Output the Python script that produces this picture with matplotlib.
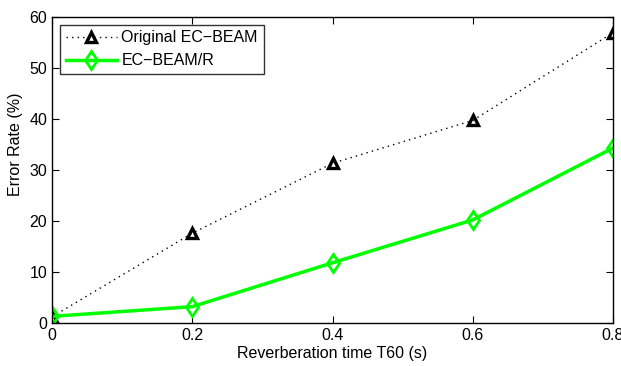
import matplotlib
matplotlib.use("Agg")
import matplotlib.pyplot as plt

plt.rcParams["font.family"] = ["Liberation Sans", "DejaVu Sans"]

t60 = [0.0, 0.2, 0.4, 0.6, 0.8]
original = [1.2, 17.6, 31.3, 39.7, 56.9]
ec_beam_r = [1.3, 3.2, 11.8, 20.2, 34.3]

fig = plt.figure(figsize=(6.21, 3.66), dpi=100)
ax = fig.add_axes([0.0837, 0.1175, 0.9035, 0.8365])

ax.plot(t60, original, color="black", linestyle=(0, (1, 3)), linewidth=1.0,
        marker="^", markersize=7.5, markerfacecolor="none",
        markeredgecolor="black", markeredgewidth=2.4, label="Original EC\u2212BEAM")
ax.plot(t60, ec_beam_r, color="#00ff00", linestyle="-", linewidth=2.5,
        marker="d", markersize=9.5, markerfacecolor="none",
        markeredgecolor="#00ff00", markeredgewidth=2.0, label="EC\u2212BEAM/R")

ax.set_xlim(0, 0.8)
ax.set_ylim(0, 60)
ax.set_xticks([0, 0.2, 0.4, 0.6, 0.8])
ax.set_xticklabels(["0", "0.2", "0.4", "0.6", "0.8"])
ax.set_yticks([0, 10, 20, 30, 40, 50, 60])
ax.tick_params(direction="in", top=True, right=True, labelsize=11.5, length=5, width=0.8)
for s in ax.spines.values():
    s.set_linewidth(1.0)

ax.set_xlabel("Reverberation time T60 (s)", fontsize=11.5, labelpad=2)
ax.set_ylabel("Error Rate (%)", fontsize=11.5)
ax.yaxis.set_label_coords(-0.052, 0.585)

leg = ax.legend(loc="upper left", fontsize=11.5, frameon=True, fancybox=False,
                edgecolor="black", borderpad=0.35, handlelength=3.2,
                handletextpad=0.3, labelspacing=0.5, borderaxespad=0.5)
leg.get_frame().set_linewidth(1.0)

fig.savefig("out.png", dpi=100)
